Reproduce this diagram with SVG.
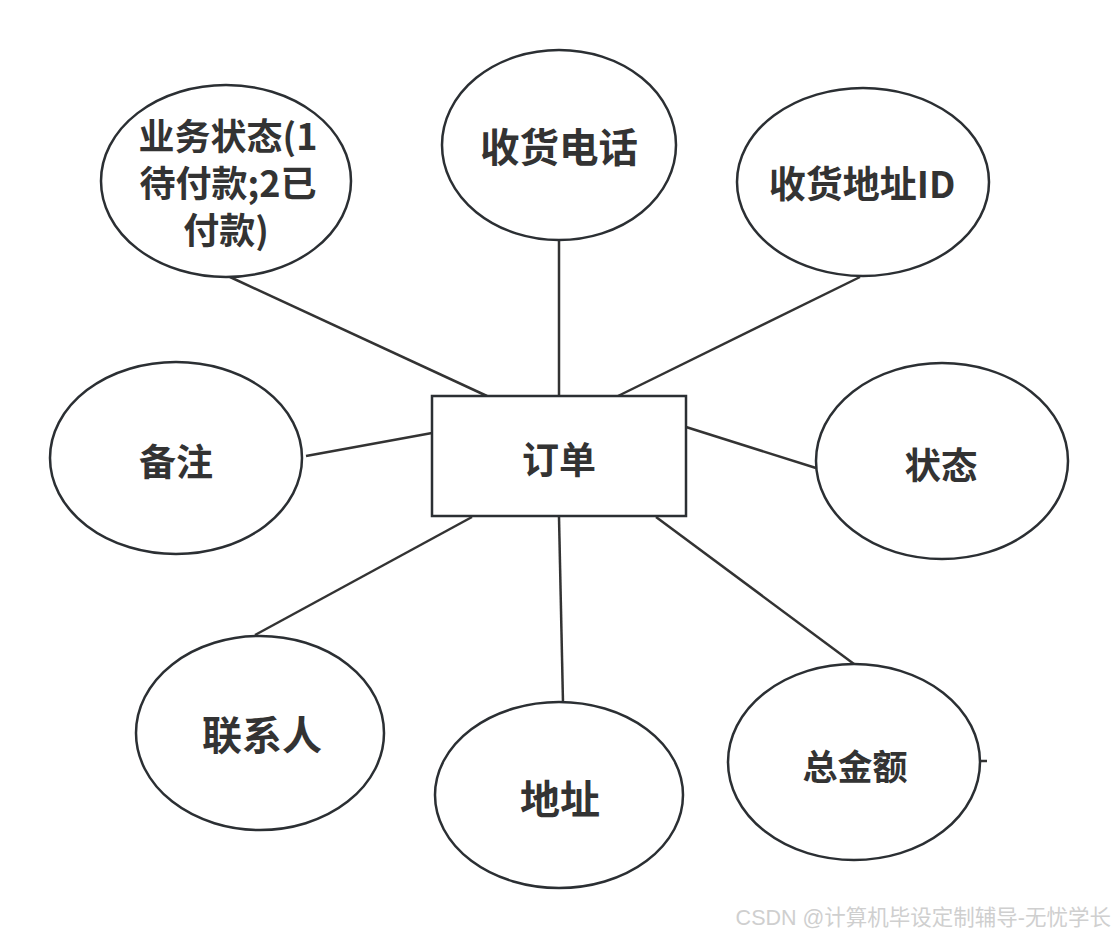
<svg xmlns="http://www.w3.org/2000/svg" width="1117" height="938" viewBox="0 0 1117 938">
<style>
.n{fill:#fff;stroke:#2b2f33;stroke-width:2.5}
.t{font-family:"Noto Sans CJK SC","Microsoft YaHei",sans-serif;font-weight:bold;fill:#333;text-anchor:middle;dominant-baseline:central}
.c line{stroke:#333;stroke-width:2.5}
.wm{font-family:"Liberation Sans","Noto Sans CJK SC",sans-serif;font-size:21.5px;fill:#cfcfcf;text-anchor:end}
</style>
<rect width="1117" height="938" fill="#fff"/>
<g class="c" id="connectors">
<line x1="230" y1="277" x2="487" y2="396"/>
<line x1="559" y1="240" x2="559" y2="396"/>
<line x1="860" y1="277" x2="618" y2="396"/>
<line x1="306" y1="456" x2="432" y2="433"/>
<line x1="686" y1="427" x2="816" y2="468"/>
<line x1="255" y1="635" x2="472" y2="517"/>
<line x1="559" y1="517" x2="563" y2="703"/>
<line x1="656" y1="517" x2="854" y2="664"/>
<line x1="980" y1="761" x2="987" y2="761"/>
</g>
<g id="order"><rect class="n" x="432" y="396" width="254" height="120"/><text class="t" x="559" y="458" font-size="37">订单</text></g>
<g id="bizstatus"><ellipse class="n" cx="226" cy="181" rx="125" ry="96"/>
<text class="t" x="228" y="134" font-size="36">业务状态(1</text>
<text class="t" x="228" y="181" font-size="36">待付款;2已</text>
<text class="t" x="226" y="228" font-size="36">付款)</text></g>
<g id="phone"><ellipse class="n" cx="559" cy="145" rx="117" ry="95"/><text class="t" x="559" y="144" font-size="39.5">收货电话</text></g>
<g id="addrid"><ellipse class="n" cx="863" cy="182" rx="126" ry="94"/><text class="t" x="862" y="182" font-size="37">收货地址ID</text></g>
<g id="remark"><ellipse class="n" cx="176" cy="458" rx="126" ry="96"/><text class="t" x="176" y="460" font-size="37">备注</text></g>
<g id="status"><ellipse class="n" cx="942" cy="461" rx="126" ry="98"/><text class="t" x="941" y="463" font-size="36.5">状态</text></g>
<g id="contact"><ellipse class="n" cx="260" cy="733" rx="124" ry="97"/><text class="t" x="262" y="733" font-size="40">联系人</text></g>
<g id="address"><ellipse class="n" cx="559" cy="795" rx="124" ry="93"/><text class="t" x="560" y="797" font-size="40">地址</text></g>
<g id="total"><ellipse class="n" cx="854" cy="762" rx="126" ry="98"/><text class="t" x="855" y="764" font-size="35">总金额</text></g>
<text class="wm" x="1111" y="925">CSDN @计算机毕设定制辅导-无忧学长</text>
</svg>
